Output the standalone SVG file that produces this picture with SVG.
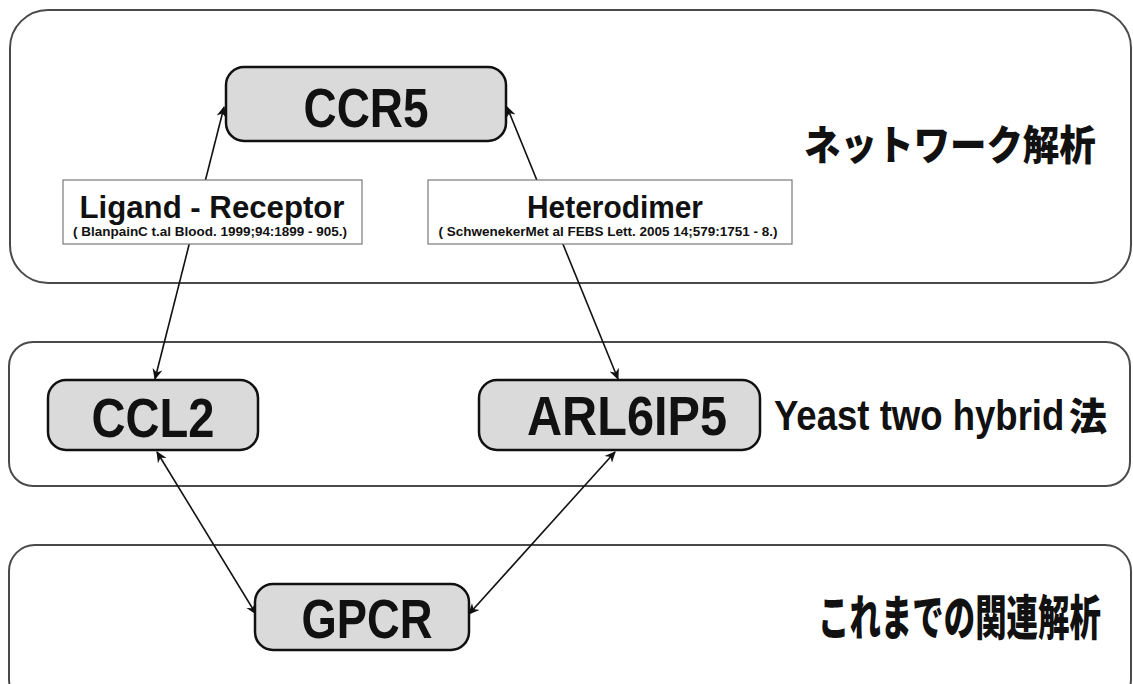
<svg xmlns="http://www.w3.org/2000/svg" width="1133" height="684" viewBox="0 0 1133 684">
  <style>
    .panel { fill: #ffffff; stroke: #4a4a4a; stroke-width: 2; }
    .node { fill: #dadada; stroke: #111111; stroke-width: 2.5; }
    .nodetext { font-family: "Liberation Sans", Arial, sans-serif; font-weight: bold; font-size: 56px; fill: #111111; text-anchor: middle; }
    .labelbox { fill: #ffffff; stroke: #7a7a7a; stroke-width: 1.2; }
    .labeltitle { font-family: "Liberation Sans", Arial, sans-serif; font-weight: bold; font-size: 31px; fill: #111111; text-anchor: middle; }
    .cite { font-family: "Liberation Sans", Arial, sans-serif; font-weight: bold; font-size: 12.5px; fill: #111111; text-anchor: middle; }
    .side { font-family: "Liberation Sans", Arial, sans-serif; font-weight: bold; fill: #111111; }
    .jp { font-family: "Noto Sans CJK JP", sans-serif; font-weight: 900; fill: #111111; }
    .edge { fill: none; stroke: #111111; stroke-width: 1.6; marker-start: url(#arrow); marker-end: url(#arrow); }
  </style>
  <defs>
    <marker id="arrow" viewBox="0 0 10 10" refX="9" refY="5" markerWidth="7" markerHeight="7" markerUnits="strokeWidth" orient="auto-start-reverse">
      <path d="M0,0.5 L10,5 L0,9.5 L3,5 Z" fill="#111111"/>
    </marker>
  </defs>

  <rect width="1133" height="684" fill="#ffffff"/>

  <!-- analysis layers -->
  <g id="layer-network">
    <rect class="panel" x="10" y="10" width="1121" height="273" rx="38" ry="38"/>
    <text class="jp" transform="translate(804,160) scale(0.89,1)" x="0" y="0" font-size="41">ネットワーク解析</text>
  </g>
  <g id="layer-y2h">
    <rect class="panel" x="9" y="342" width="1121" height="144" rx="24" ry="24"/>
    <text class="side" transform="translate(774,430) scale(0.87,1)" x="0" y="0" font-size="42">Yeast two hybrid</text>
    <text class="jp" x="1069" y="430" font-size="38">法</text>
  </g>
  <g id="layer-previous">
    <rect class="panel" x="9" y="545" width="1122" height="160" rx="26" ry="26"/>
    <text class="jp" transform="translate(818,635) scale(0.655,1)" x="0" y="0" font-size="48">これまでの関連解析</text>
  </g>

  <!-- interactions -->
  <g id="connectors">
    <line class="edge" x1="155" y1="379" x2="224" y2="107"/>
    <line class="edge" x1="618" y1="379" x2="507" y2="107"/>
    <line class="edge" x1="157" y1="452" x2="256" y2="614"/>
    <line class="edge" x1="615" y1="452" x2="469" y2="614"/>
  </g>

  <!-- edge annotations -->
  <g id="label-ligand-receptor">
    <rect class="labelbox" x="63" y="180" width="299" height="64"/>
    <text class="labeltitle" x="212" y="218" textLength="265" lengthAdjust="spacingAndGlyphs">Ligand - Receptor</text>
    <text class="cite" x="210" y="236" textLength="274" lengthAdjust="spacingAndGlyphs">( BlanpainC t.al Blood. 1999;94:1899 - 905.)</text>
  </g>
  <g id="label-heterodimer">
    <rect class="labelbox" x="428" y="180" width="364" height="64"/>
    <text class="labeltitle" x="615" y="218" textLength="176" lengthAdjust="spacingAndGlyphs">Heterodimer</text>
    <text class="cite" x="608" y="236" textLength="339" lengthAdjust="spacingAndGlyphs">( SchwenekerMet al FEBS Lett. 2005 14;579:1751 - 8.)</text>
  </g>

  <!-- molecules -->
  <g id="node-ccr5">
    <rect class="node" x="226" y="67" width="280" height="74" rx="18" ry="18"/>
    <text class="nodetext" x="366" y="127" textLength="125" lengthAdjust="spacingAndGlyphs">CCR5</text>
  </g>
  <g id="node-ccl2">
    <rect class="node" x="48" y="380" width="210" height="70" rx="18" ry="18"/>
    <text class="nodetext" x="153" y="437" textLength="123" lengthAdjust="spacingAndGlyphs">CCL2</text>
  </g>
  <g id="node-arl6ip5">
    <rect class="node" x="479" y="380" width="281" height="70" rx="18" ry="18"/>
    <text class="nodetext" x="627" y="435" textLength="200" lengthAdjust="spacingAndGlyphs">ARL6IP5</text>
  </g>
  <g id="node-gpcr">
    <rect class="node" x="255" y="584" width="214" height="66" rx="18" ry="18"/>
    <text class="nodetext" x="367" y="638" textLength="131" lengthAdjust="spacingAndGlyphs">GPCR</text>
  </g>
</svg>
